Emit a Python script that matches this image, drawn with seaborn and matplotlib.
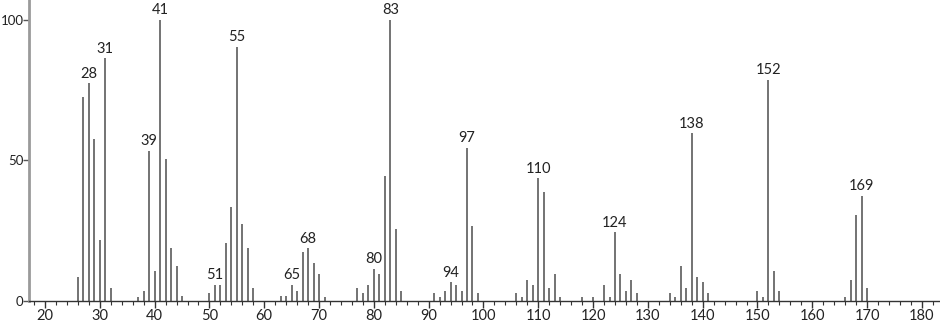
import matplotlib
matplotlib.use("Agg")
import matplotlib.pyplot as plt
import seaborn as sns
import pandas as pd
from matplotlib.ticker import MultipleLocator

mz = [26, 27, 28, 29, 30, 31, 32, 37, 38, 39, 40, 41, 42, 43, 44, 45,
      50, 51, 52, 53, 54, 55, 56, 57, 58, 63, 64, 65, 66, 67, 68, 69, 70, 71,
      77, 78, 79, 80, 81, 82, 83, 84, 85, 91, 92, 93, 94, 95, 96, 97, 98, 99,
      106, 107, 108, 109, 110, 111, 112, 113, 114, 118, 120, 122, 123, 124,
      125, 126, 127, 128, 134, 135, 136, 137, 138, 139, 140, 141,
      150, 151, 152, 153, 154, 166, 167, 168, 169, 170]
intensity = [8.5, 72.7, 77.4, 57.5, 21.6, 86.3, 4.4, 1.4, 3.6, 53.3, 10.6, 100, 50.5, 18.6, 12.5, 1.7,
             2.6, 5.5, 5.5, 20.4, 33.5, 90.5, 27.3, 18.6, 4.5, 1.7, 1.7, 5.5, 3.6, 17.5, 18.6, 13.5, 9.5, 1.4,
             4.4, 2.6, 5.5, 11.3, 9.5, 44.4, 100, 25.4, 3.6, 2.6, 1.4, 3.6, 6.5, 5.5, 3.6, 54.4, 26.6, 2.6,
             2.6, 1.4, 7.4, 5.5, 43.6, 38.6, 4.5, 9.5, 1.4, 1.4, 1.4, 5.5, 1.4, 24.3,
             9.5, 3.6, 7.4, 2.6, 2.6, 1.4, 12.5, 4.5, 59.6, 8.5, 6.5, 2.6,
             3.6, 1.4, 78.6, 10.6, 3.6, 1.4, 7.4, 30.5, 37.3, 4.5]
labeled_peaks = [28, 31, 39, 41, 51, 55, 65, 68, 80, 83, 94, 97, 110, 124, 138, 152, 169]
x_ticks = [20, 30, 40, 50, 60, 70, 80, 90, 100, 110, 120, 130, 140, 150, 160, 170, 180]
y_ticks = [0, 50, 100]

df = pd.DataFrame({"mz": mz, "intensity": intensity})

sns.set_theme(style="white")
plt.rcParams["font.family"] = ["Lato", "DejaVu Sans"]

fig = plt.figure(figsize=(9.4, 3.22), dpi=100)
ax = fig.add_axes([29 / 940, 21.3 / 322, 911 / 940, 300.7 / 322])

ax.vlines(df["mz"], 0, df["intensity"], color="#4d4d4d", linewidth=1.1)

lookup = dict(zip(mz, intensity))
for p in labeled_peaks:
    ax.annotate(str(p), (p, lookup[p]), xytext=(0, 2), textcoords="offset points",
                ha="center", va="bottom", fontsize=10.5, color="#222222")

ax.set_xlim(17.08, 183.3)
ax.set_ylim(0, 107.1)
ax.set_xticks(x_ticks)
ax.set_yticks(y_ticks)
ax.xaxis.set_minor_locator(MultipleLocator(2))

sns.despine(ax=ax, top=True, right=True)
ax.spines["left"].set_color("#9a9a9a")
ax.spines["left"].set_linewidth(2)
ax.spines["bottom"].set_color("#333333")
ax.spines["bottom"].set_linewidth(1.0)

ax.tick_params(axis="x", which="major", direction="out", length=5, width=1, color="#333333",
               labelsize=10.5, labelcolor="#222222", pad=1, bottom=True)
ax.tick_params(axis="x", which="minor", direction="out", length=3, width=0.8, color="#333333", bottom=True)
ax.tick_params(axis="y", which="major", direction="out", length=4, width=1, color="#555555",
               labelsize=9.5, labelcolor="#222222", pad=0, left=True)

ax.set_xlabel("")
ax.set_ylabel("")
ax.grid(False)
ax.set_facecolor("white")
fig.patch.set_facecolor("white")

fig.savefig("out.png", dpi=100)
